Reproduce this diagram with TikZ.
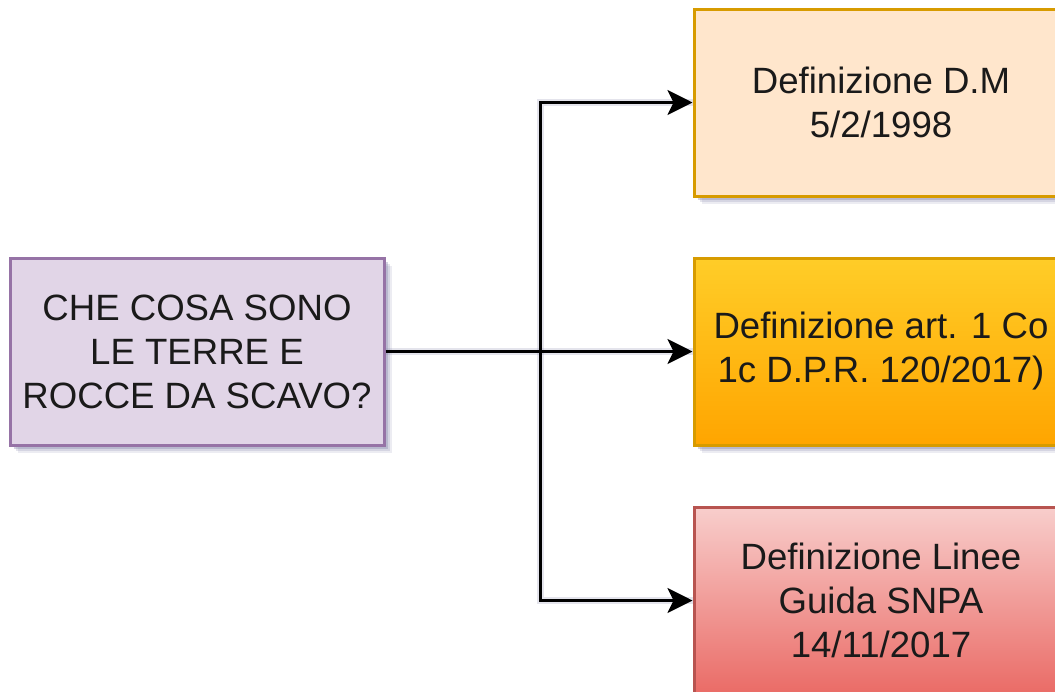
\documentclass[tikz,border=0pt]{standalone}
\usepackage{fontspec}
\setmainfont{Liberation Sans}
\usetikzlibrary{arrows.meta,shadows}

\definecolor{qfill}{HTML}{E1D5E7}
\definecolor{qline}{HTML}{9673A6}
\definecolor{dmfill}{HTML}{FFE6CC}
\definecolor{orline}{HTML}{D79B00}
\definecolor{ortop}{HTML}{FFCD28}
\definecolor{orbot}{HTML}{FFA500}
\definecolor{rdtop}{HTML}{F8CECC}
\definecolor{rdbot}{HTML}{EA6B66}
\definecolor{rdline}{HTML}{B85450}
\definecolor{txt}{HTML}{1A1A1A}
\definecolor{shade}{HTML}{8282A8}

\tikzset{
  box/.style={draw, line width=3pt, minimum width=374pt, minimum height=187pt,
    inner sep=0pt, align=center, text=txt,
    font=\fontsize{36.6}{44}\selectfont,
    drop shadow={shadow xshift=8pt, shadow yshift=-8pt, fill=shade, opacity=0.15},
    drop shadow={shadow xshift=6pt, shadow yshift=-6pt, fill=shade, opacity=0.22},
    drop shadow={shadow xshift=4pt, shadow yshift=-4pt, fill=shade, opacity=0.35}},
  link/.style={line width=3pt, draw=black},
  tip/.style={-{Stealth[length=25pt, width=25pt, inset=6pt]}},
  linkshadow/.style={line width=7pt, draw=shade, opacity=0.22}
}

\begin{document}
\begin{tikzpicture}[x=1pt, y=-1pt]
  \useasboundingbox (0,0) rectangle (1055,691);
  \clip (0,0) rectangle (1055,691);

  % question box on the left
  \node[box, draw=qline, fill=qfill] (q) at (197,351.5)
    {CHE COSA SONO\\LE TERRE E\\ROCCE DA SCAVO?};

  % three definitions on the right
  \node[box, draw=orline, fill=dmfill] (dm) at (881,102.5)
    {Definizione D.M\\5/2/1998};
  \node[box, draw=orline, top color=ortop, bottom color=orbot] (dpr) at (881,351.5)
    {Definizione art. 1 Co\\1c D.P.R. 120/2017)};
  \node[box, draw=rdline, top color=rdtop, bottom color=rdbot] (snpa) at (881,600.5)
    {Definizione Linee\\Guida SNPA\\14/11/2017};

  % branching point of the connectors
  \coordinate (split) at (540,351.5);

  % soft shadows of the connectors
  \begin{scope}[xshift=5pt, yshift=-5pt]
    \draw[linkshadow] (q.east) -- (dpr.west);
    \draw[linkshadow] (split) |- (dm.west);
    \draw[linkshadow] (split) |- (snpa.west);
  \end{scope}

  % connectors
  \draw[link, tip] (q.east) -- (dpr.west);
  \draw[link, tip] (split) |- (dm.west);
  \draw[link, tip] (split) |- (snpa.west);
\end{tikzpicture}
\end{document}
